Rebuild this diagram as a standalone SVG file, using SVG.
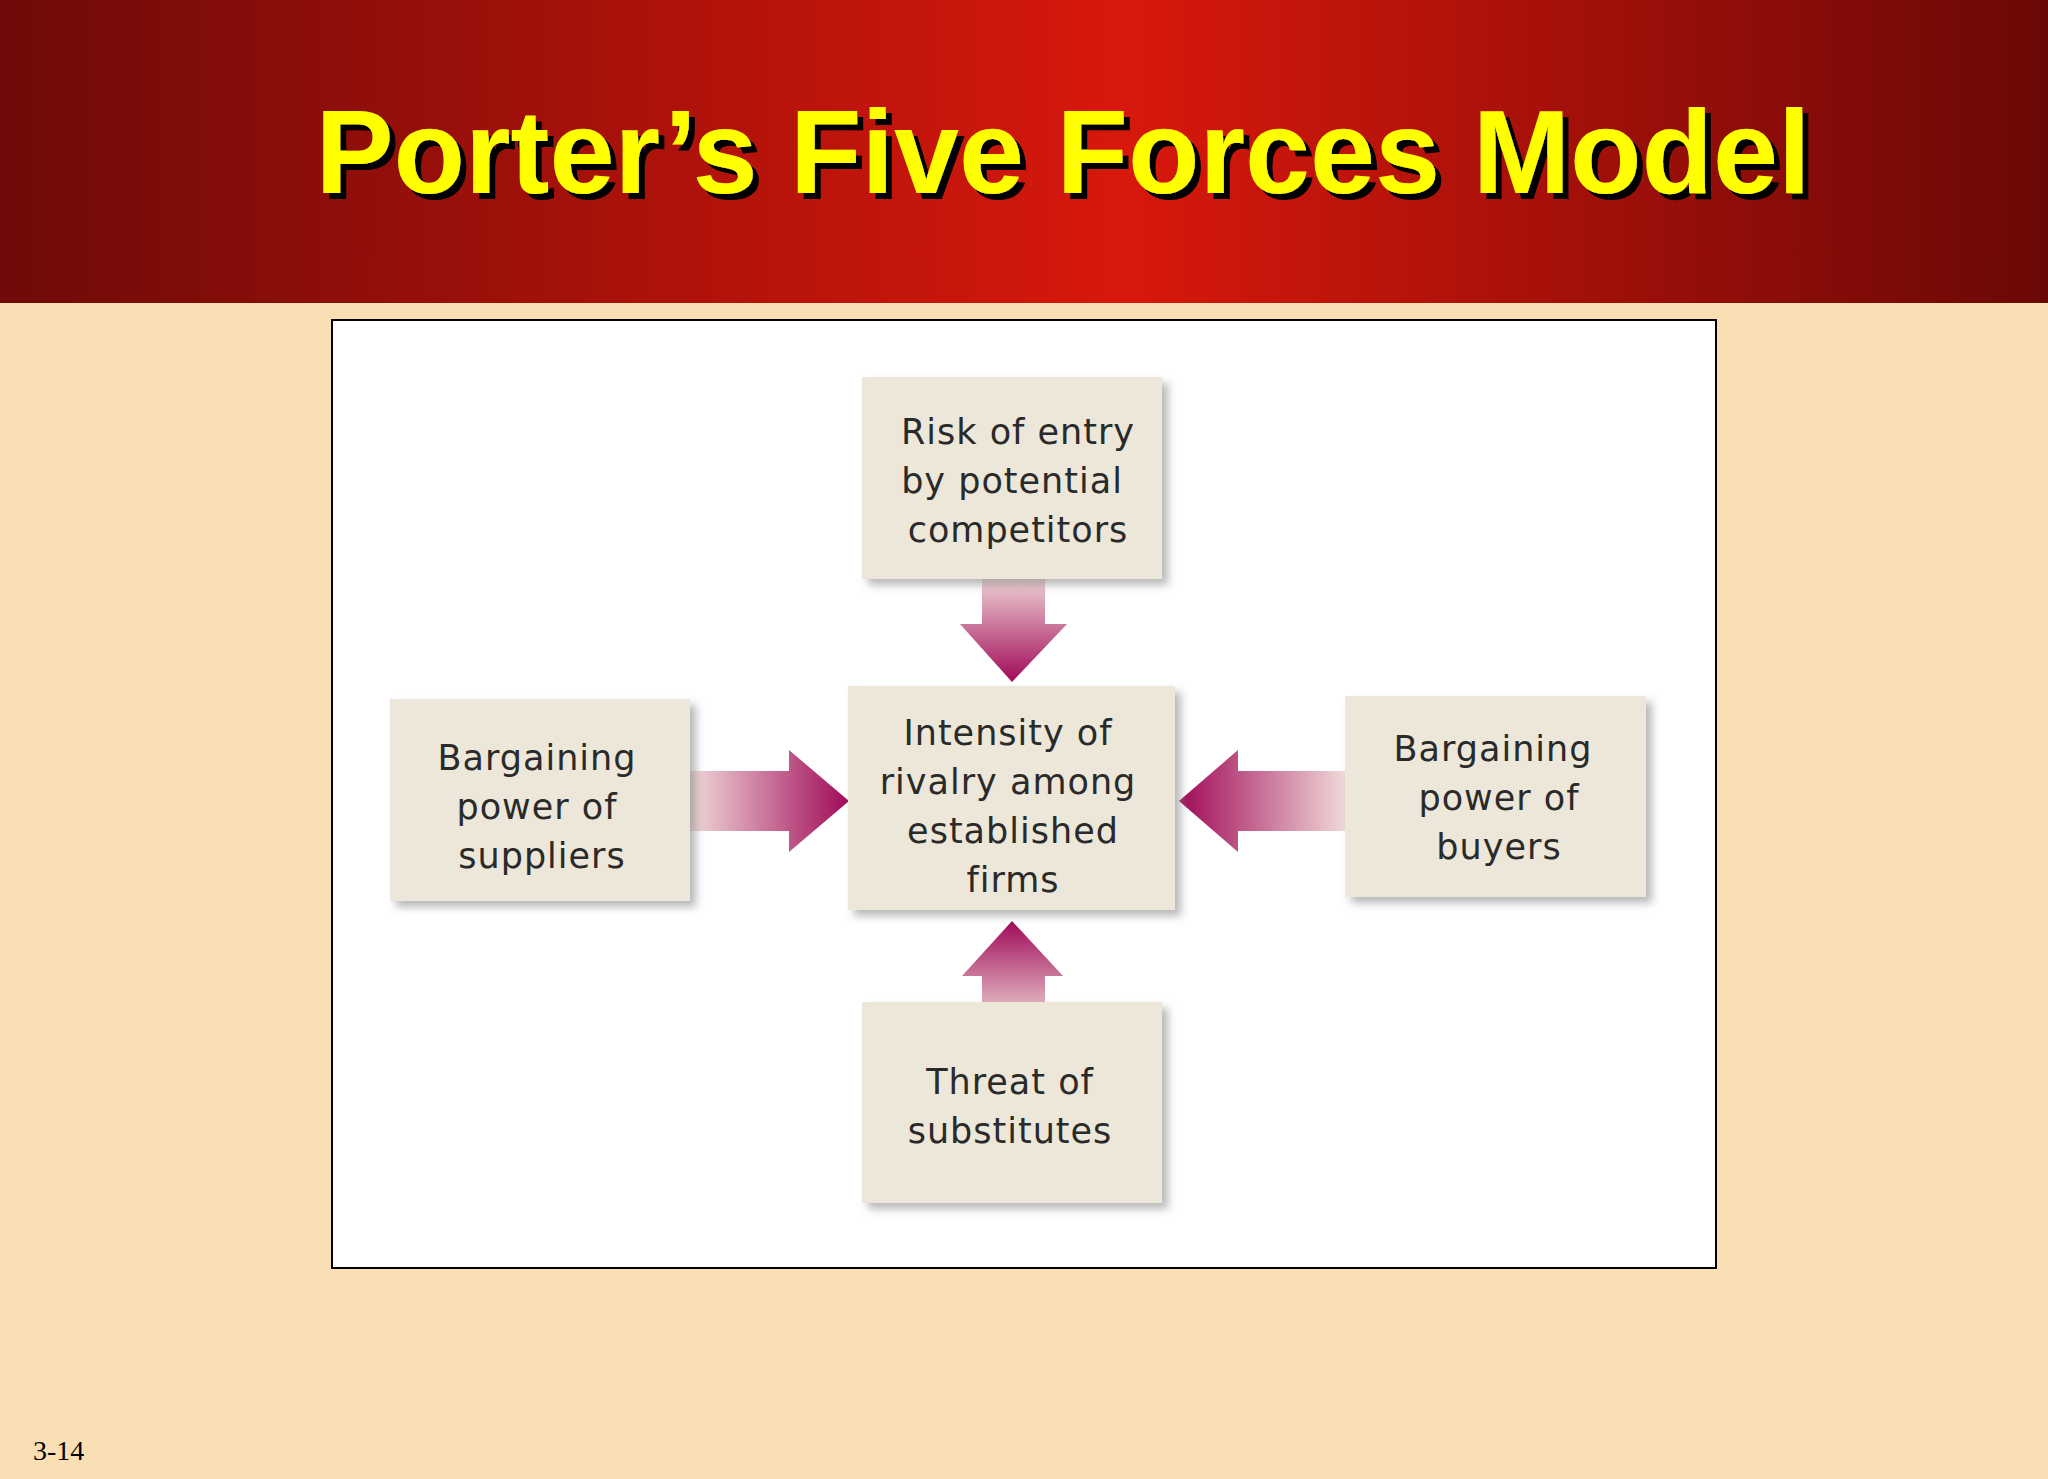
<svg xmlns="http://www.w3.org/2000/svg" width="2048" height="1479" viewBox="0 0 2048 1479">
<defs>
<linearGradient id="hdr" x1="0" y1="0" x2="1" y2="0">
<stop offset="0" stop-color="#6e0a08"/><stop offset="0.55" stop-color="#d8180c"/><stop offset="1" stop-color="#6a0806"/>
</linearGradient>
<linearGradient id="gDown" x1="0" y1="0" x2="0" y2="1"><stop offset="0" stop-color="#f0d8d8"/><stop offset="1" stop-color="#a00a58"/></linearGradient>
<linearGradient id="gUp" x1="0" y1="1" x2="0" y2="0"><stop offset="0" stop-color="#f0d8d8"/><stop offset="1" stop-color="#a00a58"/></linearGradient>
<linearGradient id="gRight" x1="0" y1="0" x2="1" y2="0"><stop offset="0" stop-color="#f0d8d8"/><stop offset="1" stop-color="#a00a58"/></linearGradient>
<linearGradient id="gLeft" x1="1" y1="0" x2="0" y2="0"><stop offset="0" stop-color="#f0d8d8"/><stop offset="1" stop-color="#a00a58"/></linearGradient>
<filter id="sh" x="-10%" y="-10%" width="125%" height="125%"><feDropShadow dx="6" dy="6" stdDeviation="4" flood-color="#888" flood-opacity="0.6"/></filter>
<filter id="tsh" x="-5%" y="-20%" width="110%" height="140%"><feDropShadow dx="6" dy="6" stdDeviation="0" flood-color="#000" flood-opacity="1"/></filter>
</defs>
<style>
.box{fill:#ece7d8;filter:url(#sh)}
.t{font-family:"DejaVu Sans","Liberation Sans",sans-serif;font-size:35px;fill:#2a2a2a;text-anchor:middle;letter-spacing:1px}
</style>
<rect width="2048" height="1479" fill="#fadfb5"/>
<rect width="2048" height="303" fill="url(#hdr)"/>
<text x="1063" y="193" font-family="Liberation Sans,sans-serif" font-weight="bold" font-size="118" text-anchor="middle" fill="#ffff00" textLength="1495" lengthAdjust="spacingAndGlyphs" filter="url(#tsh)">Porter’s Five Forces Model</text>
<rect x="332" y="320" width="1384" height="948" fill="#fff" stroke="#000" stroke-width="2"/>
<g id="connectors">
<path d="M982,575H1045V624H1067L1012,682L960,624H982Z" fill="url(#gDown)"/>
<path d="M982,1025H1045V976H1063L1012,921L962,976H982Z" fill="url(#gUp)"/>
<path d="M690,771H789V750L849,801L789,852V831H690Z" fill="url(#gRight)"/>
<path d="M1345,771H1238V750L1179,801L1238,852V831H1345Z" fill="url(#gLeft)"/>
</g>
<g id="top"><rect class="box" x="862" y="377" width="300" height="202"/>
<text class="t" x="1018" y="444">Risk of entry</text><text class="t" x="1012" y="493">by potential</text><text class="t" x="1018" y="542">competitors</text></g>
<g id="center"><rect class="box" x="848" y="686" width="327" height="224"/>
<text class="t" x="1008" y="745">Intensity of</text><text class="t" x="1008" y="794">rivalry among</text><text class="t" x="1013" y="843">established</text><text class="t" x="1013" y="892">firms</text></g>
<g id="left"><rect class="box" x="390" y="699" width="300" height="202"/>
<text class="t" x="537" y="770">Bargaining</text><text class="t" x="537" y="819">power of</text><text class="t" x="542" y="868">suppliers</text></g>
<g id="right"><rect class="box" x="1345" y="696" width="301" height="201"/>
<text class="t" x="1493" y="761">Bargaining</text><text class="t" x="1499" y="810">power of</text><text class="t" x="1499" y="859">buyers</text></g>
<g id="bottom"><rect class="box" x="862" y="1002" width="300" height="201"/>
<text class="t" x="1010" y="1094">Threat of</text><text class="t" x="1010" y="1143">substitutes</text></g>
<text x="33" y="1460" font-family="Liberation Serif,serif" font-size="28" fill="#000">3-14</text>
</svg>
